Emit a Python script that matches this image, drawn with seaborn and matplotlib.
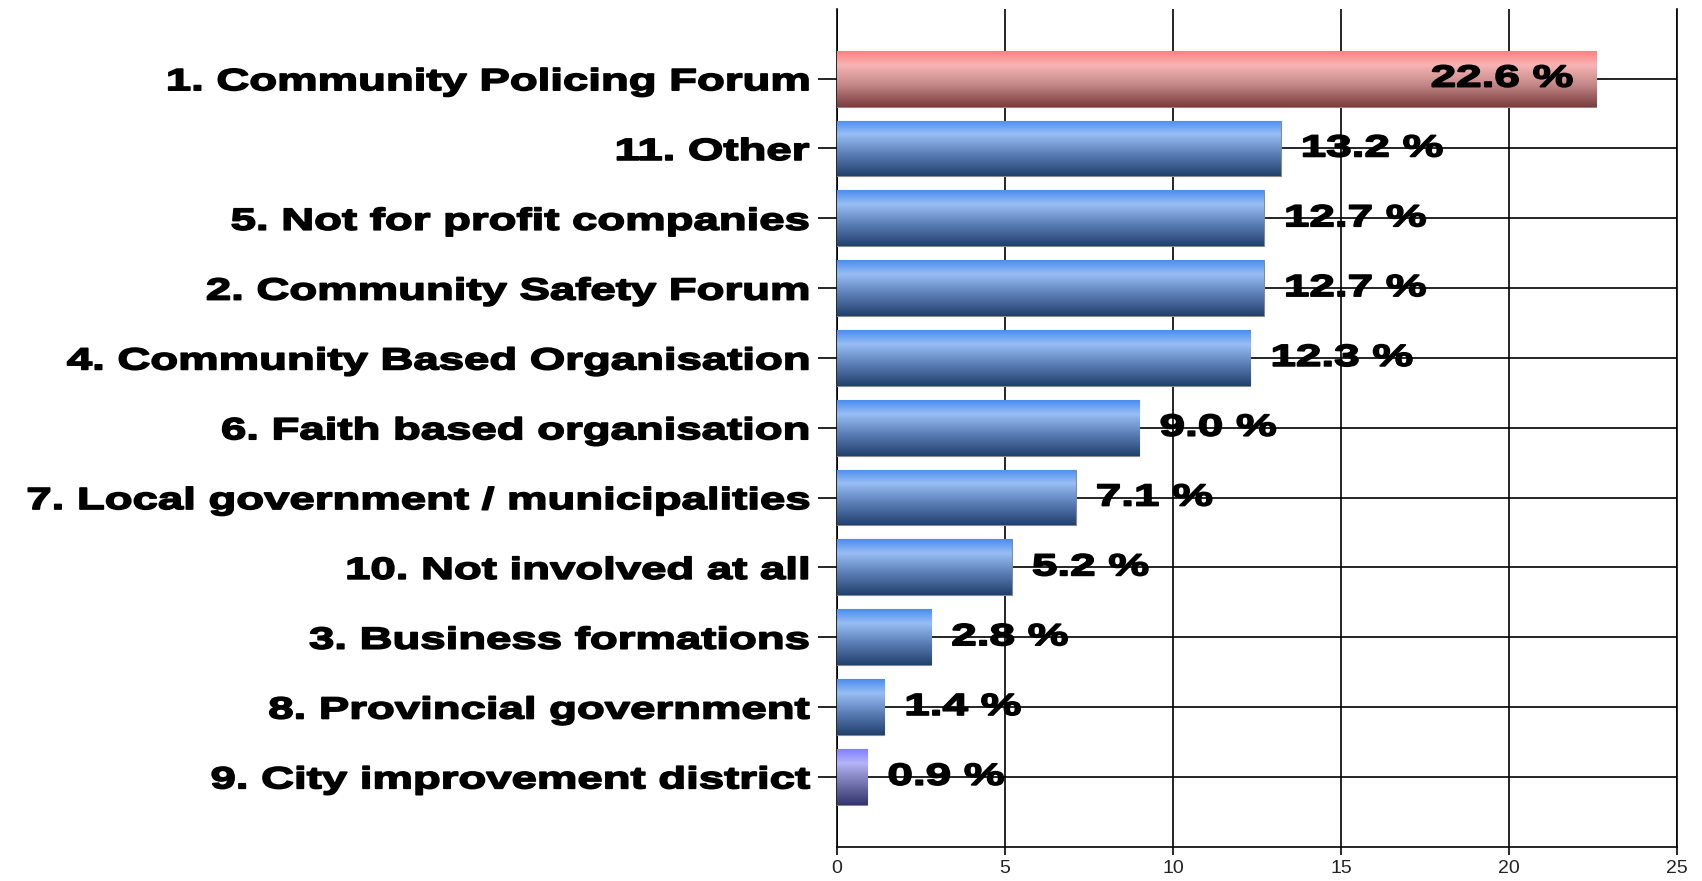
import numpy as np
import pandas as pd
import seaborn as sns
import matplotlib.pyplot as plt
import matplotlib.patheffects as pe
from matplotlib.colors import LinearSegmentedColormap
from matplotlib.transforms import Affine2D

categories = ['1. Community Policing Forum', '11. Other', '5. Not for profit companies',
              '2. Community Safety Forum', '4. Community Based Organisation',
              '6. Faith based organisation', '7. Local government / municipalities',
              '10. Not involved at all', '3. Business formations',
              '8. Provincial government', '9. City improvement district']
values = [22.6, 13.2, 12.7, 12.7, 12.3, 9.0, 7.1, 5.2, 2.8, 1.4, 0.9]
groups = ['red'] + ['blue'] * 9 + ['purple']

df = pd.DataFrame({'cat': categories, 'val': values, 'grp': groups})


# wide heavy lettering: stretch the glyph path sideways and stroke it
class Wide(pe.AbstractPathEffect):
    def __init__(self, sx=1.49, anchor='right', lw=1.2, fg='black'):
        super().__init__()
        self.sx, self.anchor, self.lw, self.fg = sx, anchor, lw, fg

    def draw_path(self, renderer, gc, tpath, affine, rgbFace=None):
        x0 = tpath.vertices[:, 0].max() if self.anchor == 'right' else 0
        pre = Affine2D().translate(-x0, 0).scale(self.sx, 1).translate(x0, 0)
        gc0 = renderer.new_gc()
        gc0.copy_properties(gc)
        gc0.set_linewidth(self.lw)
        gc0.set_foreground(self.fg)
        renderer.draw_path(gc0, tpath, pre + affine, rgbFace)
        gc0.restore()


sns.set_style('white')
plt.rcParams['font.family'] = ['Liberation Sans', 'DejaVu Sans']

fig = plt.figure(figsize=(17.02, 8.81), dpi=100)
ax = fig.add_axes([0.4918, 0.039, 0.4935, 0.951])

sns.barplot(data=df, x='val', y='cat', orient='h', width=0.8, color='white',
            edgecolor='#8a8a8a', linewidth=0.8, ax=ax, zorder=3)

grads = {
    'red': ['#ff8080', '#f8b4b4', '#c48888', '#7a3c3c'],
    'blue': ['#4a8cf0', '#98bef4', '#5c7fb8', '#20406c'],
    'purple': ['#8080ff', '#b4b4f8', '#7676b0', '#34346c'],
}
g = np.linspace(0, 1, 256).reshape(-1, 1)
for patch, grp in zip(ax.patches, df['grp']):
    x0, y0 = patch.get_x(), patch.get_y()
    w, h = patch.get_width(), patch.get_height()
    cmap = LinearSegmentedColormap.from_list(grp, list(zip([0, 0.25, 0.6, 1], grads[grp])))
    im = ax.imshow(g, cmap=cmap, aspect='auto', origin='upper',
                   extent=(x0, x0 + w, y0 + h, y0), zorder=3.5, interpolation='bicubic')
    im.set_clip_path(patch)

for i, v in enumerate(values):
    if i == 0:
        ax.text(v - 0.7, i, f'{v:.1f} %', ha='right', va='center', fontsize=22,
                fontweight='bold', color='black', zorder=5,
                path_effects=[Wide(sx=1.5, anchor='right')])
    else:
        ax.text(v + 0.6, i, f'{v:.1f} %', ha='left', va='center', fontsize=22,
                fontweight='bold', color='black', zorder=5,
                path_effects=[Wide(sx=1.5, anchor='left')])

ax.set_xlim(0, 25)
ax.set_ylim(11, -1)
ax.set_xticks([0, 5, 10, 15, 20, 25])
ax.grid(True, color='black', linewidth=1.2, zorder=0)
ax.set_axisbelow(True)
ax.set_xlabel('')
ax.set_ylabel('')
ax.tick_params(axis='y', labelsize=22, length=14, width=1.2, color='black',
               labelcolor='black', pad=6, left=True)
ax.tick_params(axis='x', labelsize=14, length=6, width=1.2, color='black',
               labelcolor='#222222', bottom=True)
for lab in ax.get_yticklabels():
    lab.set_fontweight('bold')
    lab.set_path_effects([Wide(anchor='right')])
for lab in ax.get_xticklabels():
    lab.set_family(['Liberation Sans Narrow', 'Liberation Sans'])
for s in ['left', 'bottom', 'right']:
    ax.spines[s].set_color('black')
    ax.spines[s].set_linewidth(1.2)
ax.spines['top'].set_visible(False)

plt.savefig('out.png', dpi=100)
